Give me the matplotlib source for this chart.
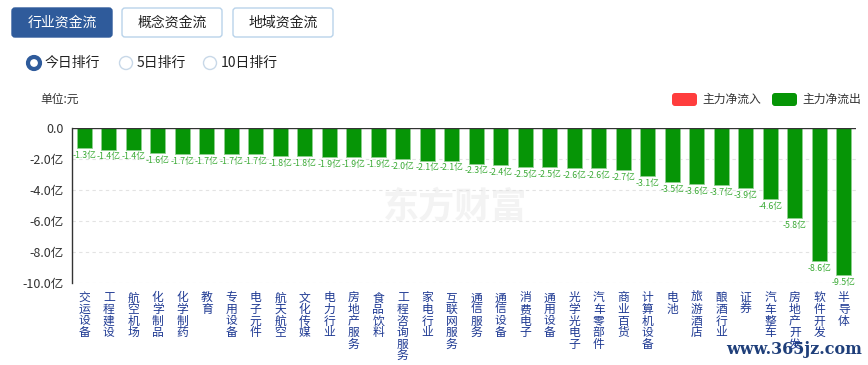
import matplotlib
matplotlib.use("Agg")
import matplotlib.pyplot as plt
from matplotlib.patches import FancyBboxPatch, Circle

plt.rcParams["font.family"] = ["Noto Sans CJK SC", "DejaVu Sans"]

industries = ["交运设备", "工程建设", "航空机场", "化学制品", "化学制药", "教育",
              "专用设备", "电子元件", "航天航空", "文化传媒", "电力行业", "房地产服务",
              "食品饮料", "工程咨询服务", "家电行业", "互联网服务", "通信服务", "通信设备",
              "消费电子", "通用设备", "光学光电子", "汽车零部件", "商业百货", "计算机设备",
              "电池", "旅游酒店", "酿酒行业", "证券", "汽车整车", "房地产开发",
              "软件开发", "半导体"]
net_flow = [-1.3, -1.4, -1.4, -1.6, -1.7, -1.7, -1.7, -1.7, -1.8, -1.8, -1.9, -1.9,
            -1.9, -2.0, -2.1, -2.1, -2.3, -2.4, -2.5, -2.5, -2.6, -2.6, -2.7, -3.1,
            -3.5, -3.6, -3.7, -3.9, -4.6, -5.8, -8.6, -9.5]
y_ticks = [0, -2, -4, -6, -8, -10]
y_labels = ["0.0", "-2.0亿", "-4.0亿", "-6.0亿", "-8.0亿", "-10.0亿"]
tabs = ["行业资金流", "概念资金流", "地域资金流"]
ranks = ["今日排行", "5日排行", "10日排行"]
legend_names = ["主力净流入", "主力净流出"]

W, H = 868, 365
fig = plt.figure(figsize=(W / 100, H / 100), dpi=100)

# page decorations in pixel coordinates
bg = fig.add_axes([0, 0, 1, 1])
bg.set_xlim(0, W)
bg.set_ylim(H, 0)
bg.axis("off")

tab_x = [12, 122, 233]
for i, (x, name) in enumerate(zip(tab_x, tabs)):
    active = i == 0
    bg.add_patch(FancyBboxPatch((x, 8), 100, 29, boxstyle="round,pad=0,rounding_size=3",
                                fc="#2f5b9b" if active else "white",
                                ec="#2f5b9b" if active else "#b9d3ea", lw=1))
    bg.text(x + 50, 22.5, name, ha="center", va="center", fontsize=10,
            color="white" if active else "#222222")

radio_x = [34, 126, 210]
for i, (x, name) in enumerate(zip(radio_x, ranks)):
    if i == 0:
        bg.add_patch(Circle((x, 63), 6, fc="white", ec="#2f5b9b", lw=3))
    else:
        bg.add_patch(Circle((x, 63), 6.5, fc="white", ec="#c8d8e8", lw=1))
    bg.text(x + 11, 63, name, ha="left", va="center", fontsize=10, color="#222222")

bg.text(40, 99, "单位:元", ha="left", va="center", fontsize=8.5, color="#333333")

leg_colors = ["#ff3d3d", "#069506"]
for x, name, c in zip([672, 772], legend_names, leg_colors):
    bg.add_patch(FancyBboxPatch((x, 93), 25, 13, boxstyle="round,pad=0,rounding_size=3",
                                fc=c, ec="none"))
    bg.text(x + 30, 99.5, name, ha="left", va="center", fontsize=8.5, color="#333333")

bg.text(455, 207, "东方财富", ha="center", va="center", fontsize=26,
        fontweight="bold", color="#f3f3f3")
bg.text(862, 349, "www.365jz.com", ha="right", va="center", fontsize=11.5,
        family="DejaVu Serif", fontweight="bold", color="#1f3f7a", zorder=5)

# main chart
ax = fig.add_axes([72 / W, 1 - 283 / H, 784 / W, 155 / H])
ax.set_facecolor("none")
x = list(range(len(industries)))
bars = ax.bar(x, net_flow, width=0.62, color="#069506", edgecolor="#8fd08f",
              linewidth=0.6, zorder=3)
for xi, v in zip(x, net_flow):
    ax.annotate(f"{v:.1f}亿", (xi, v), xytext=(0, -2), textcoords="offset points",
                ha="center", va="top", fontsize=6.3, color="#3aaa35", zorder=4)

ax.set_xlim(-0.5, len(industries) - 0.5)
ax.set_ylim(-10, 0)
ax.set_yticks(y_ticks)
ax.set_yticklabels(y_labels, fontsize=9, color="#333333")
ax.set_xticks(x)
ax.set_xticklabels(["\n".join(n) for n in industries], fontsize=8.5,
                   color="#1f3a93", linespacing=0.86, va="top")
ax.tick_params(axis="both", length=0)
ax.tick_params(axis="x", pad=6)
ax.tick_params(axis="y", pad=6)
for yv in y_ticks[1:]:
    ax.axhline(yv, color="#e3e3e3", lw=0.8, ls=(0, (3, 3)), zorder=1)
ax.axhline(0, color="#333333", lw=1, zorder=5)
for s in ["top", "right", "bottom"]:
    ax.spines[s].set_visible(False)
ax.spines["left"].set_color("#333333")
ax.spines["left"].set_linewidth(1)

fig.savefig("out.png", dpi=100)
